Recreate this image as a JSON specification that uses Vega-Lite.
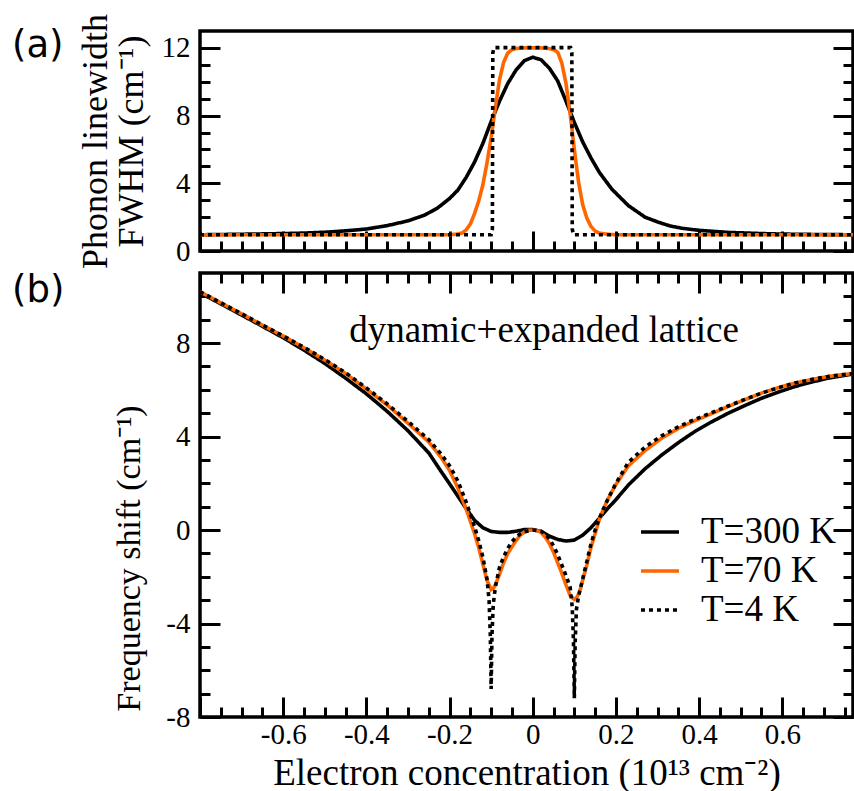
{
  "$schema": "https://vega.github.io/schema/vega-lite/v6.json",
  "padding": {"left": 10, "top": 11, "right": 0, "bottom": 0},
  "background": "white",
  "config": {
    "view": {"stroke": "black", "strokeWidth": 3.5},
    "font": "Liberation Serif",
    "style": {"guide-label": {"font": "Liberation Serif"}, "guide-title": {"font": "Liberation Serif"}},
    "axis": {
      "domain": false, "grid": false, "tickColor": "black", "tickWidth": 3,
      "labelFont": "Liberation Serif", "labelFontSize": 29, "labelColor": "black",
      "titleFont": "Liberation Serif", "titleFontSize": 37, "titleFontWeight": "normal", "titleColor": "black",
      "labelFlush": false, "labelOverlap": false, "labelBound": false,
      "encode": {
        "labels": {"update": {"font": {"value": "Liberation Serif"}}},
        "title": {"update": {"font": {"value": "Liberation Serif"}}}
      }
    }
  },
  "datasets": {
    "fwhm": [
      {"n": -0.8, "v": 0.96, "T": "T=300 K"}, {"n": -0.7, "v": 0.99, "T": "T=300 K"}, {"n": -0.6, "v": 1.03, "T": "T=300 K"},
      {"n": -0.55, "v": 1.06, "T": "T=300 K"}, {"n": -0.5, "v": 1.11, "T": "T=300 K"}, {"n": -0.45, "v": 1.19, "T": "T=300 K"},
      {"n": -0.4, "v": 1.3, "T": "T=300 K"}, {"n": -0.35, "v": 1.5, "T": "T=300 K"}, {"n": -0.3, "v": 1.78, "T": "T=300 K"},
      {"n": -0.26, "v": 2.12, "T": "T=300 K"}, {"n": -0.23, "v": 2.52, "T": "T=300 K"}, {"n": -0.2, "v": 3.1, "T": "T=300 K"},
      {"n": -0.18, "v": 3.6, "T": "T=300 K"}, {"n": -0.16, "v": 4.35, "T": "T=300 K"}, {"n": -0.14, "v": 5.25, "T": "T=300 K"},
      {"n": -0.12, "v": 6.35, "T": "T=300 K"}, {"n": -0.1, "v": 7.65, "T": "T=300 K"}, {"n": -0.08, "v": 8.85, "T": "T=300 K"},
      {"n": -0.06, "v": 9.9, "T": "T=300 K"}, {"n": -0.04, "v": 10.7, "T": "T=300 K"}, {"n": -0.02, "v": 11.25, "T": "T=300 K"},
      {"n": 0, "v": 11.45, "T": "T=300 K"}, {"n": 0.02, "v": 11.3, "T": "T=300 K"}, {"n": 0.04, "v": 10.8, "T": "T=300 K"},
      {"n": 0.06, "v": 10.05, "T": "T=300 K"}, {"n": 0.08, "v": 8.85, "T": "T=300 K"}, {"n": 0.1, "v": 7.6, "T": "T=300 K"},
      {"n": 0.12, "v": 6.45, "T": "T=300 K"}, {"n": 0.14, "v": 5.5, "T": "T=300 K"}, {"n": 0.16, "v": 4.65, "T": "T=300 K"},
      {"n": 0.19, "v": 3.66, "T": "T=300 K"}, {"n": 0.23, "v": 2.68, "T": "T=300 K"}, {"n": 0.27, "v": 2.0, "T": "T=300 K"},
      {"n": 0.3, "v": 1.72, "T": "T=300 K"}, {"n": 0.33, "v": 1.48, "T": "T=300 K"}, {"n": 0.36, "v": 1.34, "T": "T=300 K"},
      {"n": 0.4, "v": 1.22, "T": "T=300 K"}, {"n": 0.47, "v": 1.1, "T": "T=300 K"}, {"n": 0.55, "v": 1.03, "T": "T=300 K"},
      {"n": 0.6, "v": 1.0, "T": "T=300 K"}, {"n": 0.7, "v": 0.97, "T": "T=300 K"}, {"n": 0.785, "v": 0.96, "T": "T=300 K"},

      {"n": -0.8, "v": 0.96, "T": "T=70 K"}, {"n": -0.2, "v": 0.96, "T": "T=70 K"}, {"n": -0.18, "v": 1.0, "T": "T=70 K"},
      {"n": -0.17, "v": 1.06, "T": "T=70 K"}, {"n": -0.16, "v": 1.25, "T": "T=70 K"}, {"n": -0.15, "v": 1.6, "T": "T=70 K"},
      {"n": -0.14, "v": 2.2, "T": "T=70 K"}, {"n": -0.13, "v": 2.95, "T": "T=70 K"}, {"n": -0.12, "v": 3.9, "T": "T=70 K"},
      {"n": -0.11, "v": 5.2, "T": "T=70 K"}, {"n": -0.1, "v": 6.7, "T": "T=70 K"}, {"n": -0.09, "v": 8.45, "T": "T=70 K"},
      {"n": -0.08, "v": 10.1, "T": "T=70 K"}, {"n": -0.07, "v": 11.15, "T": "T=70 K"}, {"n": -0.06, "v": 11.7, "T": "T=70 K"},
      {"n": -0.05, "v": 11.9, "T": "T=70 K"}, {"n": -0.04, "v": 11.97, "T": "T=70 K"}, {"n": -0.02, "v": 12.0, "T": "T=70 K"},
      {"n": 0, "v": 12.0, "T": "T=70 K"}, {"n": 0.02, "v": 12.0, "T": "T=70 K"}, {"n": 0.04, "v": 11.96, "T": "T=70 K"},
      {"n": 0.05, "v": 11.9, "T": "T=70 K"}, {"n": 0.06, "v": 11.75, "T": "T=70 K"}, {"n": 0.07, "v": 11.1, "T": "T=70 K"},
      {"n": 0.08, "v": 9.9, "T": "T=70 K"}, {"n": 0.09, "v": 8.1, "T": "T=70 K"}, {"n": 0.1, "v": 6.0, "T": "T=70 K"},
      {"n": 0.11, "v": 4.1, "T": "T=70 K"}, {"n": 0.12, "v": 2.75, "T": "T=70 K"}, {"n": 0.13, "v": 1.95, "T": "T=70 K"},
      {"n": 0.14, "v": 1.45, "T": "T=70 K"}, {"n": 0.15, "v": 1.18, "T": "T=70 K"}, {"n": 0.16, "v": 1.06, "T": "T=70 K"},
      {"n": 0.18, "v": 0.99, "T": "T=70 K"}, {"n": 0.2, "v": 0.96, "T": "T=70 K"}, {"n": 0.785, "v": 0.96, "T": "T=70 K"},

      {"n": -0.8, "v": 0.96, "T": "T=4 K"}, {"n": -0.1, "v": 0.96, "T": "T=4 K"}, {"n": -0.097, "v": 1.3, "T": "T=4 K"},
      {"n": -0.096, "v": 11.7, "T": "T=4 K"}, {"n": -0.093, "v": 12.02, "T": "T=4 K"}, {"n": 0.091, "v": 12.02, "T": "T=4 K"},
      {"n": 0.094, "v": 11.7, "T": "T=4 K"}, {"n": 0.095, "v": 1.3, "T": "T=4 K"}, {"n": 0.098, "v": 0.96, "T": "T=4 K"},
      {"n": 0.785, "v": 0.96, "T": "T=4 K"}
    ],
    "shift": [
      {"n": -0.8, "v": 10.15, "T": "T=300 K"}, {"n": -0.75, "v": 9.68, "T": "T=300 K"}, {"n": -0.7, "v": 9.2, "T": "T=300 K"},
      {"n": -0.65, "v": 8.72, "T": "T=300 K"}, {"n": -0.6, "v": 8.23, "T": "T=300 K"}, {"n": -0.55, "v": 7.7, "T": "T=300 K"},
      {"n": -0.5, "v": 7.13, "T": "T=300 K"}, {"n": -0.45, "v": 6.5, "T": "T=300 K"}, {"n": -0.4, "v": 5.83, "T": "T=300 K"},
      {"n": -0.35, "v": 5.08, "T": "T=300 K"}, {"n": -0.3, "v": 4.25, "T": "T=300 K"}, {"n": -0.25, "v": 3.3, "T": "T=300 K"},
      {"n": -0.22, "v": 2.5, "T": "T=300 K"}, {"n": -0.2, "v": 1.98, "T": "T=300 K"}, {"n": -0.18, "v": 1.45, "T": "T=300 K"},
      {"n": -0.16, "v": 0.92, "T": "T=300 K"}, {"n": -0.14, "v": 0.42, "T": "T=300 K"}, {"n": -0.12, "v": 0.1, "T": "T=300 K"},
      {"n": -0.1, "v": -0.06, "T": "T=300 K"}, {"n": -0.08, "v": -0.1, "T": "T=300 K"}, {"n": -0.06, "v": -0.1, "T": "T=300 K"},
      {"n": -0.04, "v": -0.05, "T": "T=300 K"}, {"n": -0.02, "v": 0.02, "T": "T=300 K"}, {"n": 0, "v": 0.02, "T": "T=300 K"},
      {"n": 0.02, "v": -0.06, "T": "T=300 K"}, {"n": 0.04, "v": -0.26, "T": "T=300 K"}, {"n": 0.06, "v": -0.4, "T": "T=300 K"},
      {"n": 0.08, "v": -0.47, "T": "T=300 K"}, {"n": 0.1, "v": -0.43, "T": "T=300 K"}, {"n": 0.12, "v": -0.22, "T": "T=300 K"},
      {"n": 0.14, "v": 0.1, "T": "T=300 K"}, {"n": 0.16, "v": 0.5, "T": "T=300 K"}, {"n": 0.18, "v": 0.92, "T": "T=300 K"},
      {"n": 0.2, "v": 1.3, "T": "T=300 K"}, {"n": 0.23, "v": 1.93, "T": "T=300 K"}, {"n": 0.27, "v": 2.62, "T": "T=300 K"},
      {"n": 0.31, "v": 3.21, "T": "T=300 K"}, {"n": 0.35, "v": 3.74, "T": "T=300 K"}, {"n": 0.39, "v": 4.22, "T": "T=300 K"},
      {"n": 0.43, "v": 4.63, "T": "T=300 K"}, {"n": 0.47, "v": 5.0, "T": "T=300 K"}, {"n": 0.51, "v": 5.33, "T": "T=300 K"},
      {"n": 0.55, "v": 5.64, "T": "T=300 K"}, {"n": 0.59, "v": 5.9, "T": "T=300 K"}, {"n": 0.63, "v": 6.14, "T": "T=300 K"},
      {"n": 0.67, "v": 6.33, "T": "T=300 K"}, {"n": 0.71, "v": 6.5, "T": "T=300 K"}, {"n": 0.75, "v": 6.62, "T": "T=300 K"},
      {"n": 0.785, "v": 6.72, "T": "T=300 K"},

      {"n": -0.8, "v": 10.2, "T": "T=70 K"}, {"n": -0.75, "v": 9.72, "T": "T=70 K"}, {"n": -0.7, "v": 9.25, "T": "T=70 K"},
      {"n": -0.65, "v": 8.77, "T": "T=70 K"}, {"n": -0.6, "v": 8.3, "T": "T=70 K"}, {"n": -0.55, "v": 7.8, "T": "T=70 K"},
      {"n": -0.5, "v": 7.27, "T": "T=70 K"}, {"n": -0.45, "v": 6.7, "T": "T=70 K"}, {"n": -0.4, "v": 6.03, "T": "T=70 K"},
      {"n": -0.35, "v": 5.35, "T": "T=70 K"}, {"n": -0.3, "v": 4.57, "T": "T=70 K"}, {"n": -0.25, "v": 3.77, "T": "T=70 K"},
      {"n": -0.22, "v": 3.1, "T": "T=70 K"}, {"n": -0.2, "v": 2.55, "T": "T=70 K"}, {"n": -0.18, "v": 1.8, "T": "T=70 K"},
      {"n": -0.16, "v": 0.9, "T": "T=70 K"}, {"n": -0.14, "v": -0.15, "T": "T=70 K"}, {"n": -0.13, "v": -0.75, "T": "T=70 K"},
      {"n": -0.12, "v": -1.45, "T": "T=70 K"}, {"n": -0.11, "v": -2.15, "T": "T=70 K"}, {"n": -0.1, "v": -2.55, "T": "T=70 K"},
      {"n": -0.095, "v": -2.5, "T": "T=70 K"}, {"n": -0.09, "v": -2.35, "T": "T=70 K"}, {"n": -0.08, "v": -1.9, "T": "T=70 K"},
      {"n": -0.07, "v": -1.4, "T": "T=70 K"}, {"n": -0.06, "v": -1.0, "T": "T=70 K"}, {"n": -0.05, "v": -0.72, "T": "T=70 K"},
      {"n": -0.04, "v": -0.45, "T": "T=70 K"}, {"n": -0.03, "v": -0.22, "T": "T=70 K"}, {"n": -0.02, "v": -0.08, "T": "T=70 K"},
      {"n": -0.01, "v": -0.01, "T": "T=70 K"}, {"n": 0, "v": 0.0, "T": "T=70 K"}, {"n": 0.01, "v": -0.02, "T": "T=70 K"},
      {"n": 0.02, "v": -0.1, "T": "T=70 K"}, {"n": 0.03, "v": -0.3, "T": "T=70 K"}, {"n": 0.04, "v": -0.58, "T": "T=70 K"},
      {"n": 0.05, "v": -0.95, "T": "T=70 K"}, {"n": 0.06, "v": -1.4, "T": "T=70 K"}, {"n": 0.07, "v": -1.85, "T": "T=70 K"},
      {"n": 0.08, "v": -2.35, "T": "T=70 K"}, {"n": 0.09, "v": -2.8, "T": "T=70 K"}, {"n": 0.1, "v": -2.97, "T": "T=70 K"},
      {"n": 0.105, "v": -2.9, "T": "T=70 K"}, {"n": 0.11, "v": -2.75, "T": "T=70 K"}, {"n": 0.115, "v": -2.5, "T": "T=70 K"},
      {"n": 0.12, "v": -2.15, "T": "T=70 K"}, {"n": 0.13, "v": -1.5, "T": "T=70 K"}, {"n": 0.14, "v": -0.75, "T": "T=70 K"},
      {"n": 0.15, "v": -0.15, "T": "T=70 K"}, {"n": 0.16, "v": 0.45, "T": "T=70 K"}, {"n": 0.17, "v": 0.9, "T": "T=70 K"},
      {"n": 0.18, "v": 1.3, "T": "T=70 K"}, {"n": 0.2, "v": 1.95, "T": "T=70 K"}, {"n": 0.23, "v": 2.75, "T": "T=70 K"},
      {"n": 0.27, "v": 3.4, "T": "T=70 K"}, {"n": 0.31, "v": 3.93, "T": "T=70 K"}, {"n": 0.35, "v": 4.35, "T": "T=70 K"},
      {"n": 0.39, "v": 4.68, "T": "T=70 K"}, {"n": 0.43, "v": 4.98, "T": "T=70 K"}, {"n": 0.47, "v": 5.29, "T": "T=70 K"},
      {"n": 0.51, "v": 5.58, "T": "T=70 K"}, {"n": 0.55, "v": 5.86, "T": "T=70 K"}, {"n": 0.59, "v": 6.09, "T": "T=70 K"},
      {"n": 0.63, "v": 6.29, "T": "T=70 K"}, {"n": 0.67, "v": 6.44, "T": "T=70 K"}, {"n": 0.71, "v": 6.57, "T": "T=70 K"},
      {"n": 0.75, "v": 6.66, "T": "T=70 K"}, {"n": 0.785, "v": 6.73, "T": "T=70 K"},

      {"n": -0.8, "v": 10.2, "T": "T=4 K"}, {"n": -0.75, "v": 9.73, "T": "T=4 K"}, {"n": -0.7, "v": 9.26, "T": "T=4 K"},
      {"n": -0.65, "v": 8.78, "T": "T=4 K"}, {"n": -0.6, "v": 8.31, "T": "T=4 K"}, {"n": -0.55, "v": 7.82, "T": "T=4 K"},
      {"n": -0.5, "v": 7.3, "T": "T=4 K"}, {"n": -0.45, "v": 6.73, "T": "T=4 K"}, {"n": -0.4, "v": 6.08, "T": "T=4 K"},
      {"n": -0.35, "v": 5.4, "T": "T=4 K"}, {"n": -0.3, "v": 4.65, "T": "T=4 K"}, {"n": -0.25, "v": 3.87, "T": "T=4 K"},
      {"n": -0.22, "v": 3.25, "T": "T=4 K"}, {"n": -0.2, "v": 2.75, "T": "T=4 K"}, {"n": -0.18, "v": 2.1, "T": "T=4 K"},
      {"n": -0.16, "v": 1.2, "T": "T=4 K"}, {"n": -0.14, "v": 0.15, "T": "T=4 K"}, {"n": -0.13, "v": -0.45, "T": "T=4 K"},
      {"n": -0.12, "v": -1.15, "T": "T=4 K"}, {"n": -0.11, "v": -2.1, "T": "T=4 K"}, {"n": -0.105, "v": -3.0, "T": "T=4 K"},
      {"n": -0.102, "v": -4.5, "T": "T=4 K"}, {"n": -0.1, "v": -6.8, "T": "T=4 K"}, {"n": -0.098, "v": -4.5, "T": "T=4 K"},
      {"n": -0.095, "v": -3.2, "T": "T=4 K"}, {"n": -0.09, "v": -2.45, "T": "T=4 K"}, {"n": -0.08, "v": -1.6, "T": "T=4 K"},
      {"n": -0.07, "v": -1.15, "T": "T=4 K"}, {"n": -0.06, "v": -0.78, "T": "T=4 K"}, {"n": -0.05, "v": -0.5, "T": "T=4 K"},
      {"n": -0.04, "v": -0.3, "T": "T=4 K"}, {"n": -0.03, "v": -0.16, "T": "T=4 K"}, {"n": -0.02, "v": -0.07, "T": "T=4 K"},
      {"n": 0, "v": 0.0, "T": "T=4 K"}, {"n": 0.02, "v": -0.05, "T": "T=4 K"}, {"n": 0.03, "v": -0.17, "T": "T=4 K"},
      {"n": 0.04, "v": -0.38, "T": "T=4 K"}, {"n": 0.05, "v": -0.68, "T": "T=4 K"}, {"n": 0.06, "v": -1.05, "T": "T=4 K"},
      {"n": 0.07, "v": -1.5, "T": "T=4 K"}, {"n": 0.08, "v": -1.95, "T": "T=4 K"}, {"n": 0.09, "v": -2.45, "T": "T=4 K"},
      {"n": 0.095, "v": -3.3, "T": "T=4 K"}, {"n": 0.098, "v": -4.8, "T": "T=4 K"}, {"n": 0.1, "v": -7.2, "T": "T=4 K"},
      {"n": 0.102, "v": -4.8, "T": "T=4 K"}, {"n": 0.105, "v": -3.4, "T": "T=4 K"}, {"n": 0.11, "v": -2.85, "T": "T=4 K"},
      {"n": 0.12, "v": -2.1, "T": "T=4 K"}, {"n": 0.13, "v": -1.35, "T": "T=4 K"}, {"n": 0.14, "v": -0.6, "T": "T=4 K"},
      {"n": 0.15, "v": 0.0, "T": "T=4 K"}, {"n": 0.16, "v": 0.5, "T": "T=4 K"}, {"n": 0.18, "v": 1.3, "T": "T=4 K"},
      {"n": 0.2, "v": 2.0, "T": "T=4 K"}, {"n": 0.23, "v": 2.9, "T": "T=4 K"}, {"n": 0.27, "v": 3.55, "T": "T=4 K"},
      {"n": 0.31, "v": 4.03, "T": "T=4 K"}, {"n": 0.35, "v": 4.42, "T": "T=4 K"}, {"n": 0.39, "v": 4.74, "T": "T=4 K"},
      {"n": 0.43, "v": 5.02, "T": "T=4 K"}, {"n": 0.47, "v": 5.31, "T": "T=4 K"}, {"n": 0.51, "v": 5.59, "T": "T=4 K"},
      {"n": 0.55, "v": 5.86, "T": "T=4 K"}, {"n": 0.59, "v": 6.09, "T": "T=4 K"}, {"n": 0.63, "v": 6.29, "T": "T=4 K"},
      {"n": 0.67, "v": 6.44, "T": "T=4 K"}, {"n": 0.71, "v": 6.57, "T": "T=4 K"}, {"n": 0.75, "v": 6.66, "T": "T=4 K"},
      {"n": 0.785, "v": 6.73, "T": "T=4 K"}
    ]
  },
  "spacing": 22,
  "bounds": "flush",
  "resolve": {"scale": {"color": "independent", "strokeDash": "independent"}},
  "vconcat": [
    {
      "width": 653,
      "height": 220,
      "resolve": {"axis": {"x": "independent", "y": "independent"}},
      "layer": [
        {
          "data": {"name": "fwhm"},
          "mark": {"type": "line", "strokeWidth": 3.6, "clip": true},
          "encoding": {
            "x": {"field": "n", "type": "quantitative",
              "scale": {"domain": [-0.8, 0.77], "nice": false, "zero": false},
              "axis": {"orient": "bottom", "title": null, "labels": false,
                "values": [-0.8,-0.75,-0.7,-0.65,-0.6,-0.55,-0.5,-0.45,-0.4,-0.35,-0.3,-0.25,-0.2,-0.15,-0.1,-0.05,0,0.05,0.1,0.15,0.2,0.25,0.3,0.35,0.4,0.45,0.5,0.55,0.6,0.65,0.7,0.75],
                "tickSize": {"condition": {"test": "abs(datum.value*5 - round(datum.value*5)) < 0.000001", "value": -20}, "value": -10}}},
            "y": {"field": "v", "type": "quantitative",
              "scale": {"domain": [0, 13], "nice": false},
              "axis": {"orient": "left", "title": ["Phonon linewidth", "FWHM (cm⁻¹)"], "titleLineHeight": 36, "titlePadding": 11,
                "titleFont": "Liberation Serif", "labelFont": "Liberation Serif", "titleFontSize": 36,
                "values": [0,1,2,3,4,5,6,7,8,9,10,11,12],
                "labelExpr": "datum.value % 4 === 0 ? '' + datum.value : ''",
                "labelPadding": 30,
                "tickSize": {"condition": {"test": "datum.value % 4 === 0", "value": -20}, "value": -10}}},
            "color": {"field": "T", "type": "nominal", "legend": null,
              "scale": {"domain": ["T=300 K", "T=70 K", "T=4 K"], "range": ["#000000", "#ff6600", "#000000"]}},
            "strokeDash": {"field": "T", "type": "nominal", "legend": null,
              "scale": {"domain": ["T=300 K", "T=70 K", "T=4 K"], "range": [[1, 0], [1, 0], [4, 4]]}}
          }
        },
        {
          "data": {"values": [{"label": "(a)"}]},
          "mark": {"type": "text", "font": "DejaVu Sans", "fontSize": 37, "baseline": "alphabetic", "align": "left", "color": "black", "dx": -188, "dy": 26},
          "encoding": {
            "x": {"datum": -0.8, "type": "quantitative", "axis": null},
            "y": {"datum": 13, "type": "quantitative",
              "axis": {"orient": "right", "title": null, "labels": false,
                "values": [0,1,2,3,4,5,6,7,8,9,10,11,12],
                "tickSize": {"condition": {"test": "datum.value % 4 === 0", "value": -20}, "value": -10}}},
            "text": {"field": "label"}
          }
        }
      ]
    },
    {
      "width": 653,
      "height": 444,
      "resolve": {"axis": {"x": "independent", "y": "independent"}},
      "layer": [
        {
          "data": {"name": "shift"},
          "mark": {"type": "line", "strokeWidth": 3.6, "clip": true},
          "encoding": {
            "x": {"field": "n", "type": "quantitative",
              "scale": {"domain": [-0.8, 0.77], "nice": false, "zero": false},
              "axis": {"orient": "bottom", "title": "Electron concentration (10¹³ cm⁻²)", "titlePadding": -4,
                "titleFont": "Liberation Serif", "labelFont": "Liberation Serif",
                "values": [-0.8,-0.75,-0.7,-0.65,-0.6,-0.55,-0.5,-0.45,-0.4,-0.35,-0.3,-0.25,-0.2,-0.15,-0.1,-0.05,0,0.05,0.1,0.15,0.2,0.25,0.3,0.35,0.4,0.45,0.5,0.55,0.6,0.65,0.7,0.75],
                "labelExpr": "(abs(datum.value*5 - round(datum.value*5)) < 0.000001 && abs(datum.value) < 0.7) ? '' + datum.value : ''",
                "labelPadding": 23,
                "tickSize": {"condition": {"test": "abs(datum.value*5 - round(datum.value*5)) < 0.000001", "value": -20}, "value": -10}}},
            "y": {"field": "v", "type": "quantitative",
              "scale": {"domain": [-8, 11], "nice": false},
              "axis": {"orient": "left", "title": "Frequency shift (cm⁻¹)", "titlePadding": 19, "titleFontSize": 34, "titleY": 285,
                "titleFont": "Liberation Serif", "labelFont": "Liberation Serif",
                "values": [-8,-7,-6,-5,-4,-3,-2,-1,0,1,2,3,4,5,6,7,8,9,10],
                "labelExpr": "datum.value % 4 === 0 ? '' + datum.value : ''",
                "labelPadding": 30,
                "tickSize": {"condition": {"test": "datum.value % 4 === 0", "value": -20}, "value": -10}}},
            "color": {"field": "T", "type": "nominal",
              "scale": {"domain": ["T=300 K", "T=70 K", "T=4 K"], "range": ["#000000", "#ff6600", "#000000"]},
              "legend": {"orient": "none", "legendX": 439, "legendY": 238, "title": null, "symbolType": "stroke", "symbolSize": 1444,
                "symbolStrokeWidth": 3.6, "labelFont": "Liberation Serif", "labelFontSize": 37, "labelColor": "black", "labelOffset": 20,
                "labelLimit": 400, "padding": 0, "rowPadding": 0}},
            "strokeDash": {"field": "T", "type": "nominal",
              "scale": {"domain": ["T=300 K", "T=70 K", "T=4 K"], "range": [[1, 0], [1, 0], [4, 4]]},
              "legend": {"orient": "none", "legendX": 439, "legendY": 238, "title": null, "symbolType": "stroke", "symbolSize": 1444,
                "symbolStrokeWidth": 3.6, "labelFont": "Liberation Serif", "labelFontSize": 37, "labelColor": "black", "labelOffset": 20,
                "labelLimit": 400, "padding": 0, "rowPadding": 0}}
          }
        },
        {
          "data": {"values": [{"label": "dynamic+expanded lattice"}]},
          "mark": {"type": "text", "font": "Liberation Serif", "fontSize": 37, "baseline": "alphabetic", "align": "center", "color": "black"},
          "encoding": {
            "x": {"datum": 0.027, "type": "quantitative", "axis": null},
            "y": {"datum": 8.05, "type": "quantitative",
              "axis": {"orient": "right", "title": null, "labels": false,
                "values": [-8,-7,-6,-5,-4,-3,-2,-1,0,1,2,3,4,5,6,7,8,9,10],
                "tickSize": {"condition": {"test": "datum.value % 4 === 0", "value": -20}, "value": -10}}},
            "text": {"field": "label"}
          }
        },
        {
          "data": {"values": [{"label": "(b)"}]},
          "mark": {"type": "text", "font": "DejaVu Sans", "fontSize": 37, "baseline": "alphabetic", "align": "left", "color": "black", "dx": -188, "dy": 29},
          "encoding": {
            "x": {"datum": -0.8, "type": "quantitative",
              "axis": {"orient": "top", "title": null, "labels": false,
                "values": [-0.8,-0.75,-0.7,-0.65,-0.6,-0.55,-0.5,-0.45,-0.4,-0.35,-0.3,-0.25,-0.2,-0.15,-0.1,-0.05,0,0.05,0.1,0.15,0.2,0.25,0.3,0.35,0.4,0.45,0.5,0.55,0.6,0.65,0.7,0.75],
                "tickSize": {"condition": {"test": "abs(datum.value*5 - round(datum.value*5)) < 0.000001", "value": -20}, "value": -10}}},
            "y": {"datum": 11, "type": "quantitative", "axis": null},
            "text": {"field": "label"}
          }
        }
      ]
    }
  ]
}
